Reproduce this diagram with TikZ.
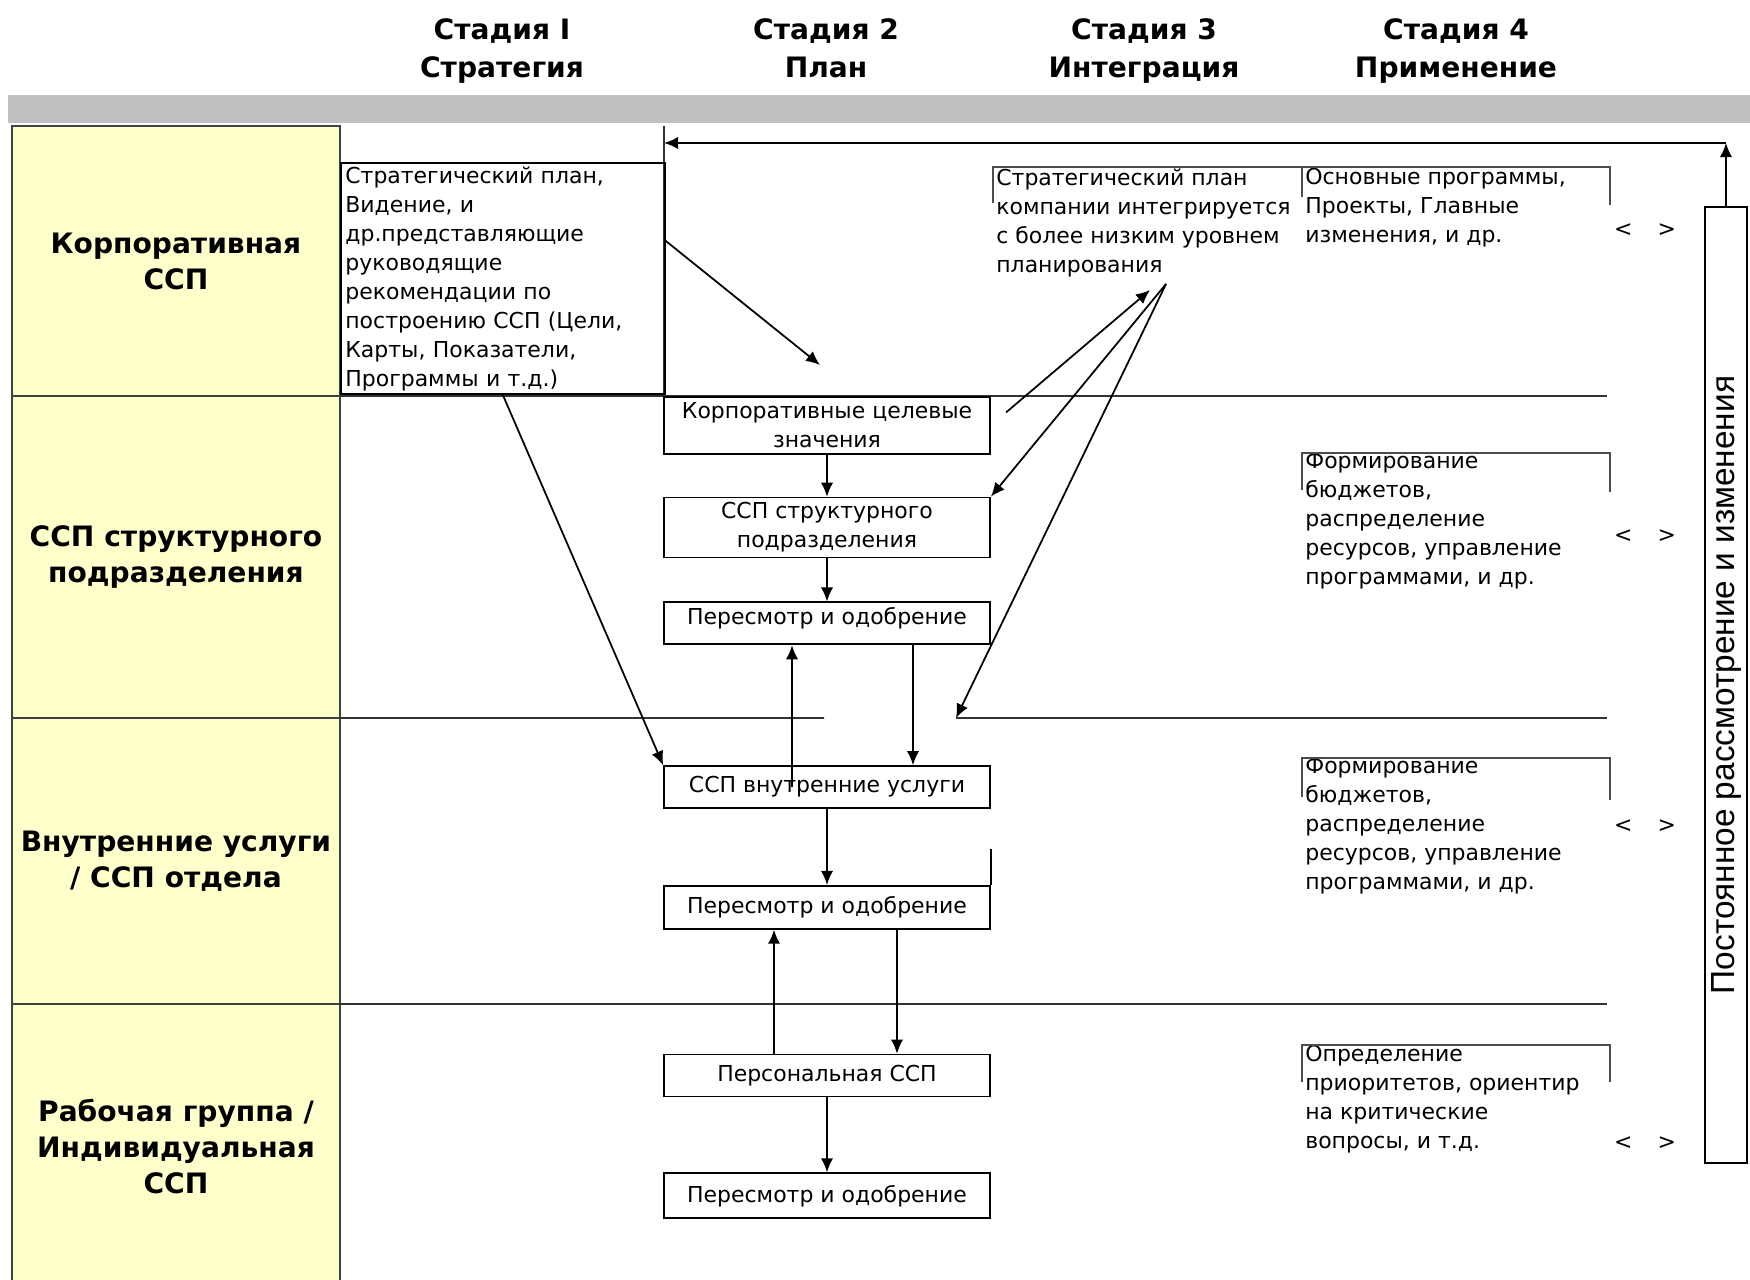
\documentclass[tikz,border=0pt]{standalone}
\usepackage{fontspec}
\setmainfont{DejaVu Sans}
\newfontfamily\vfont{Liberation Sans}
\usetikzlibrary{arrows.meta,positioning}
\definecolor{laneyellow}{RGB}{255,255,204}
\definecolor{bargray}{RGB}{192,192,192}
\tikzset{
  hdr/.style     = {font=\fontsize{16}{22}\selectfont\bfseries, align=center, anchor=north},
  lane/.style    = {draw=black!75, fill=laneyellow, line width=1pt, outer sep=0pt,
                    minimum width=6.56cm, align=center,
                    font=\fontsize{16}{20.5}\selectfont\bfseries},
  small/.style   = {font=\fontsize{12.5}{16.5}\selectfont},
  planbox/.style = {small, draw, fill=white, line width=1pt, minimum width=6.52cm,
                    align=center, inner sep=2pt},
  note/.style    = {small, anchor=north west, align=left, inner sep=0pt},
  frame/.style   = {draw=black!70, line width=1.2pt},
  divider/.style = {draw=black!80, line width=1pt},
  conn/.style    = {->, line width=1pt}
}

\begin{document}
\begin{tikzpicture}[x=0.02cm, y=-0.02cm, >={Latex[length=8pt,width=7pt]},
  node distance=0.84cm]

\fill[white] (0,0) rectangle (1750,1280);
\useasboundingbox (0,0) rectangle (1750,1280);

% stage headers and grey bar
\node[hdr] (s1) at (502,12) {Стадия I\\Стратегия};
\node[hdr] (s2) at (826,12) {Стадия 2\\План};
\node[hdr] (s3) at (1144,12) {Стадия 3\\Интеграция};
\node[hdr] (s4) at (1456,12) {Стадия 4\\Применение};
\fill[bargray] (8,95) rectangle (1750,123);

% levels on the left
\node[lane, minimum height=5.4cm, anchor=north west] (lane1) at (12,126) {Корпоративная\\ССП};
\node[lane, minimum height=6.44cm, below=0pt of lane1] (lane2) {ССП структурного\\подразделения};
\node[lane, minimum height=5.72cm, below=0pt of lane2] (lane3) {Внутренние услуги\\/ ССП отдела};
\node[lane, minimum height=5.72cm, below=0pt of lane3] (lane4) {Рабочая группа /\\Индивидуальная\\ССП};

\coordinate (ptop) at (664,126);
\coordinate (cut) at (824,718);
\coordinate (gap) at (956,718);
\draw[divider] (ptop) -- (ptop |- lane1.south);
\draw[divider] (lane1.south east) -- ++(1267,0);
\draw[divider] (lane2.south east) -- (cut);
\draw[divider] (gap) -- ++(651,0);
\draw[divider] (lane3.south east) -- ++(1267,0);

% stage 1
\node[small, draw, line width=1pt, anchor=north west, align=left, inner sep=2pt,
  text width=6.3cm, minimum width=6.48cm, minimum height=4.58cm] (strat) at (340,162)
  {Стратегический план,\\Видение, и\\др.представляющие\\руководящие\\рекомендации по\\построению ССП (Цели,\\Карты, Показатели,\\Программы и т.д.)};

% stage 2
\node[planbox, minimum height=1.14cm, anchor=north] (b1) at (827,396) {Корпоративные целевые\\значения};
\node[planbox, minimum height=1.2cm, below=0.84cm of b1] (b2) {ССП структурного\\подразделения};
\node[planbox, minimum height=0.84cm, text depth=0.3cm, below=0.86cm of b2] (b3) {Пересмотр и одобрение};
\node[planbox, minimum height=0.84cm, below=2.4cm of b3] (b4) {ССП внутренние услуги};
\node[planbox, minimum height=0.86cm, below=1.52cm of b4] (b5) {Пересмотр и одобрение};
\node[planbox, minimum height=0.84cm, below=2.48cm of b5] (b6) {Персональная ССП};
\node[planbox, minimum height=0.9cm, below=1.5cm of b6] (b7) {Пересмотр и одобрение};
\draw[line width=1pt] (b5.north east) -- ++(0,-36);

% stage 3 and 4 notes
\node[note] (n3) at (996,168) {Стратегический план\\компании интегрируется\\с более низким уровнем\\планирования};
\draw[frame] (993,203) |- (1302,167) -- (1302,197);
\node[note] (n4a) at (1305,168) {Основные программы,\\Проекты, Главные\\изменения, и др.};
\draw[frame] (1302,197) |- (1610,167) -- (1610,205);
\node[note] (n4b) at (1305,452) {Формирование\\бюджетов,\\распределение\\ресурсов, управление\\программами, и др.};
\draw[frame] (1302,490) |- (1610,453) -- (1610,492);
\node[note] (n4c) at (1305,757) {Формирование\\бюджетов,\\распределение\\ресурсов, управление\\программами, и др.};
\draw[frame] (1302,797) |- (1610,758) -- (1610,800);
\node[note] (n4d) at (1305,1045) {Определение\\приоритетов, ориентир\\на критические\\вопросы, и т.д.};
\draw[frame] (1302,1082) |- (1610,1045) -- (1610,1082);

\node[small] (m1) at (1645,230) {<\hspace{0.5cm}>};
\node[small] (m2) at (1645,536) {<\hspace{0.5cm}>};
\node[small] (m3) at (1645,826) {<\hspace{0.5cm}>};
\node[small] (m4) at (1645,1143) {<\hspace{0.5cm}>};

% feedback column
\node[draw, line width=1pt, rotate=90, minimum width=19.12cm, minimum height=0.84cm,
  font=\vfont\fontsize{19}{22}\selectfont] (long) at (1726,685)
  {Постоянное рассмотрение и изменения\hspace{0.6cm}};
\coordinate (fb) at (1726,143);
\draw[conn] (long.east) -- (fb);
\draw[conn] (fb) -- (ptop |- fb);

% flow in the plan column
\draw[conn] (b1) -- (b2);
\draw[conn] (b2) -- (b3);
\draw[conn] ([xshift=1.72cm]b3.south) -- ([xshift=1.72cm]b4.north);
\draw[conn] ([xshift=-0.7cm]b4.center) -- ([xshift=-0.7cm]b3.south);
\draw[conn] (b4) -- (b5);
\draw[conn] ([xshift=1.4cm]b5.south) -- ([xshift=1.4cm]b6.north);
\draw[conn] ([xshift=-1.06cm]b6.north) -- ([xshift=-1.06cm]b5.south);
\draw[conn] (b6) -- (b7);

% links between stages
\coordinate (tgt) at (820,365);
\coordinate (intg1) at (1150,290);
\coordinate (intg2) at (1166,284);
\draw[conn] (strat.13) -- (tgt);
\draw[conn] (strat.south) -- (b4.north west);
\draw[conn, shorten <=0.4cm] (b1.east) -- (intg1);
\draw[conn] (intg2) -- (b2.north east);
\draw[conn] (intg2) -- (gap);

\end{tikzpicture}
\end{document}
